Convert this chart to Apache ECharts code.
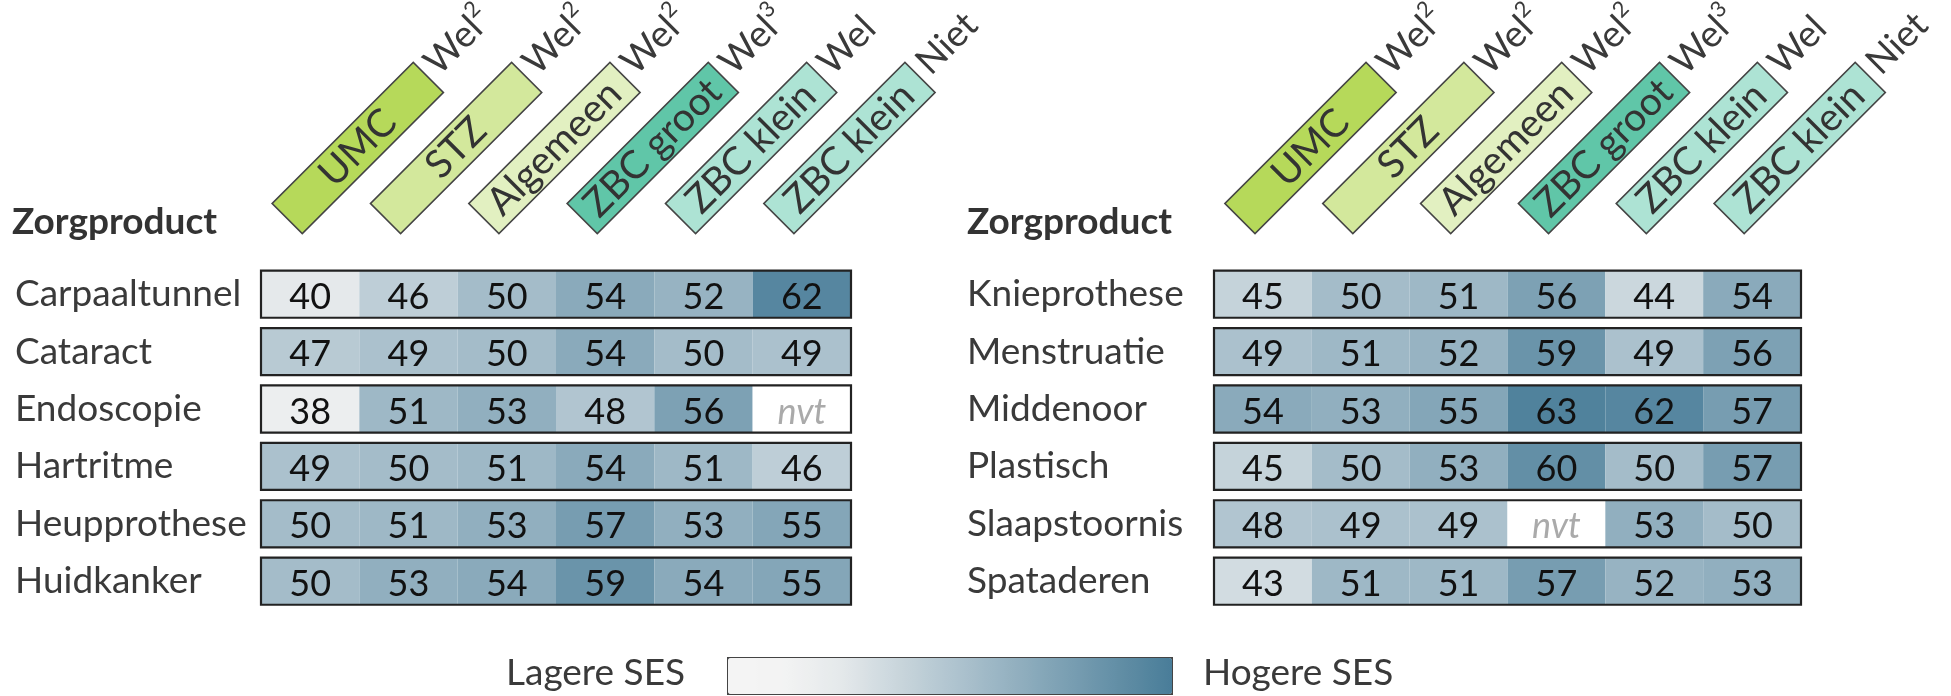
<!DOCTYPE html>
<html><head><meta charset="utf-8">
<script src="https://cdn.jsdelivr.net/npm/echarts@6/dist/echarts.min.js"></script>
<style>html,body{margin:0;padding:0;background:#fff}#c{width:1951px;height:696px}</style>
</head><body><div id="c"></div>
<script>
// ---- data ----
const columns = ['UMC', 'STZ', 'Algemeen', 'ZBC groot', 'ZBC klein', 'ZBC klein'];
const suffixes = ['Wel', 'Wel', 'Wel', 'Wel', 'Wel', 'Niet'];
const superscripts = ['2', '2', '2', '3', '', ''];
const headerColors = ['#b6d95a', '#d3e89c', '#e2f0c1', '#60c6a8', '#ade3d4', '#ade3d4'];
const rowsLeft = ['Carpaaltunnel', 'Cataract', 'Endoscopie', 'Hartritme', 'Heupprothese', 'Huidkanker'];
const rowsRight = ['Knieprothese', 'Menstruatie', 'Middenoor', 'Plastisch', 'Slaapstoornis', 'Spataderen'];
const valuesLeft = [
  [40, 46, 50, 54, 52, 62],
  [47, 49, 50, 54, 50, 49],
  [38, 51, 53, 48, 56, '-'],
  [49, 50, 51, 54, 51, 46],
  [50, 51, 53, 57, 53, 55],
  [50, 53, 54, 59, 54, 55]
];
const valuesRight = [
  [45, 50, 51, 56, 44, 54],
  [49, 51, 52, 59, 49, 56],
  [54, 53, 55, 63, 62, 57],
  [45, 50, 53, 60, 50, 57],
  [48, 49, 49, '-', 53, 50],
  [43, 51, 51, 57, 52, 53]
];
const missingLabel = 'nvt';
const headerTitle = 'Zorgproduct';
const legendLabels = ['Lagere SES', 'Hogere SES'];
const scaleMin = 32, scaleMax = 64;
const scaleColors = ['#f4f4f4', '#f3f3f3', '#e5e9eb', '#cbd7dd', '#b1c5d0', '#97b3c2', '#7da1b4', '#638fa6', '#497d99'];

// ---- styling ----
const FONT = 'Lato';
const TXT = '#3a3a3a';
const CELL_RATIO = 0.82;

function toCells(values) {
  const out = [];
  values.forEach((row, r) => row.forEach((v, c) => out.push([c, r, v])));
  return out;
}
function toFrames(rows) { return rows.map((_, r) => [0, r]); }

function renderCell(params, api) {
  const v = api.value(2);
  const c = api.coord([api.value(0), api.value(1)]);
  const s = api.size([1, 1]);
  const h = s[1] * CELL_RATIO;
  const missing = isNaN(v);
  return {
    type: 'group',
    children: [
      { type: 'rect', shape: { x: c[0] - s[0] / 2, y: c[1] - h / 2, width: s[0], height: h },
        style: { fill: missing ? '#ffffff' : api.visual('color') } },
      { type: 'text', x: c[0], y: c[1] + 3,
        style: { text: missing ? missingLabel : String(v), fill: missing ? '#aaaaaa' : '#111',
          font: (missing ? 'italic ' : '') + '36px ' + FONT, align: 'center', verticalAlign: 'middle' } }
    ]
  };
}
function renderFrame(params, api) {
  const r = api.value(1);
  const a = api.coord([0, r]);
  const b = api.coord([columns.length - 1, r]);
  const s = api.size([1, 1]);
  const h = s[1] * CELL_RATIO;
  return {
    type: 'rect',
    shape: { x: a[0] - s[0] / 2, y: a[1] - h / 2, width: b[0] - a[0] + s[0], height: h },
    style: { fill: 'none', stroke: '#222', lineWidth: 2.2 }
  };
}

const rich = {
  s: { fontFamily: FONT, fontSize: 37, color: TXT, height: 50, lineHeight: 50, verticalAlign: 'top', padding: [0, 0, 0, 9] },
  p: { fontFamily: FONT, fontSize: 22, color: TXT, height: 26, lineHeight: 26, verticalAlign: 'top' }
};
headerColors.forEach((col, i) => {
  rich['b' + i] = { fontFamily: FONT, fontSize: 39, color: '#333', width: 198, height: 41, lineHeight: 60,
    align: 'center', verticalAlign: 'middle', backgroundColor: col, borderColor: '#444', borderWidth: 1.6 };
});
function headerFormatter(value, idx) {
  let t = '{b' + idx + '|' + value + '}{s|' + suffixes[idx] + '}';
  if (superscripts[idx]) t += '{p|' + superscripts[idx] + '}';
  return t;
}

function heatX(gi) {
  return { type: 'category', gridIndex: gi, data: columns, show: false };
}
function heatY(gi, rows, margin) {
  return { type: 'category', gridIndex: gi, data: rows, inverse: true,
    axisLine: { show: false }, axisTick: { show: false }, splitLine: { show: false },
    axisLabel: { interval: 0, align: 'left', margin: margin, fontFamily: FONT, fontSize: 37, color: TXT, padding: [6, 0, 0, 0] } };
}
function headX(gi) {
  return { type: 'category', gridIndex: gi, data: columns, position: 'top',
    axisLine: { show: false }, axisTick: { show: false }, splitLine: { show: false },
    axisLabel: { interval: 0, rotate: 45, margin: 0, formatter: headerFormatter, rich: rich } };
}

const chart = echarts.init(document.getElementById('c'), null, { renderer: 'canvas' });
const titleStyle = { fontFamily: FONT, fontWeight: 'bold', fontSize: 37, color: '#333' };
chart.setOption({
  animation: false,
  backgroundColor: '#fff',
  title: [
    { text: headerTitle, left: 12, top: 204, padding: 0, textStyle: titleStyle },
    { text: headerTitle, left: 967, top: 204, padding: 0, textStyle: titleStyle }
  ],
  grid: [
    { left: 261, top: 265.5, width: 590, height: 344.4, outerBoundsMode: 'none' },
    { left: 1214, top: 265.5, width: 587, height: 344.4, outerBoundsMode: 'none' },
    { left: 238.6, top: 218, width: 590, height: 1, outerBoundsMode: 'none' },
    { left: 1191.6, top: 218, width: 587, height: 1, outerBoundsMode: 'none' }
  ],
  xAxis: [heatX(0), heatX(1), headX(2), headX(3)],
  yAxis: [heatY(0, rowsLeft, 246), heatY(1, rowsRight, 247),
    { type: 'value', gridIndex: 2, show: false }, { type: 'value', gridIndex: 3, show: false }],
  visualMap: {
    type: 'continuous', min: scaleMin, max: scaleMax, orient: 'horizontal',
    left: 727, top: 657, itemWidth: 36, itemHeight: 444, calculable: false, text: null,
    padding: 0, borderColor: '#444', borderWidth: 2,
    seriesIndex: [0, 1], dimension: 2, inRange: { color: scaleColors }
  },
  graphic: [
    { type: 'text', left: 506, top: 655, style: { text: legendLabels[0], font: '37px ' + FONT, fill: TXT } },
    { type: 'text', left: 1203, top: 655, style: { text: legendLabels[1], font: '37px ' + FONT, fill: TXT } }
  ],
  series: [
    { type: 'custom', xAxisIndex: 0, yAxisIndex: 0, data: toCells(valuesLeft), renderItem: renderCell, z: 2 },
    { type: 'custom', xAxisIndex: 1, yAxisIndex: 1, data: toCells(valuesRight), renderItem: renderCell, z: 2 },
    { type: 'custom', xAxisIndex: 0, yAxisIndex: 0, data: toFrames(rowsLeft), renderItem: renderFrame, z: 3, silent: true },
    { type: 'custom', xAxisIndex: 1, yAxisIndex: 1, data: toFrames(rowsRight), renderItem: renderFrame, z: 3, silent: true }
  ]
});
</script></body></html>
